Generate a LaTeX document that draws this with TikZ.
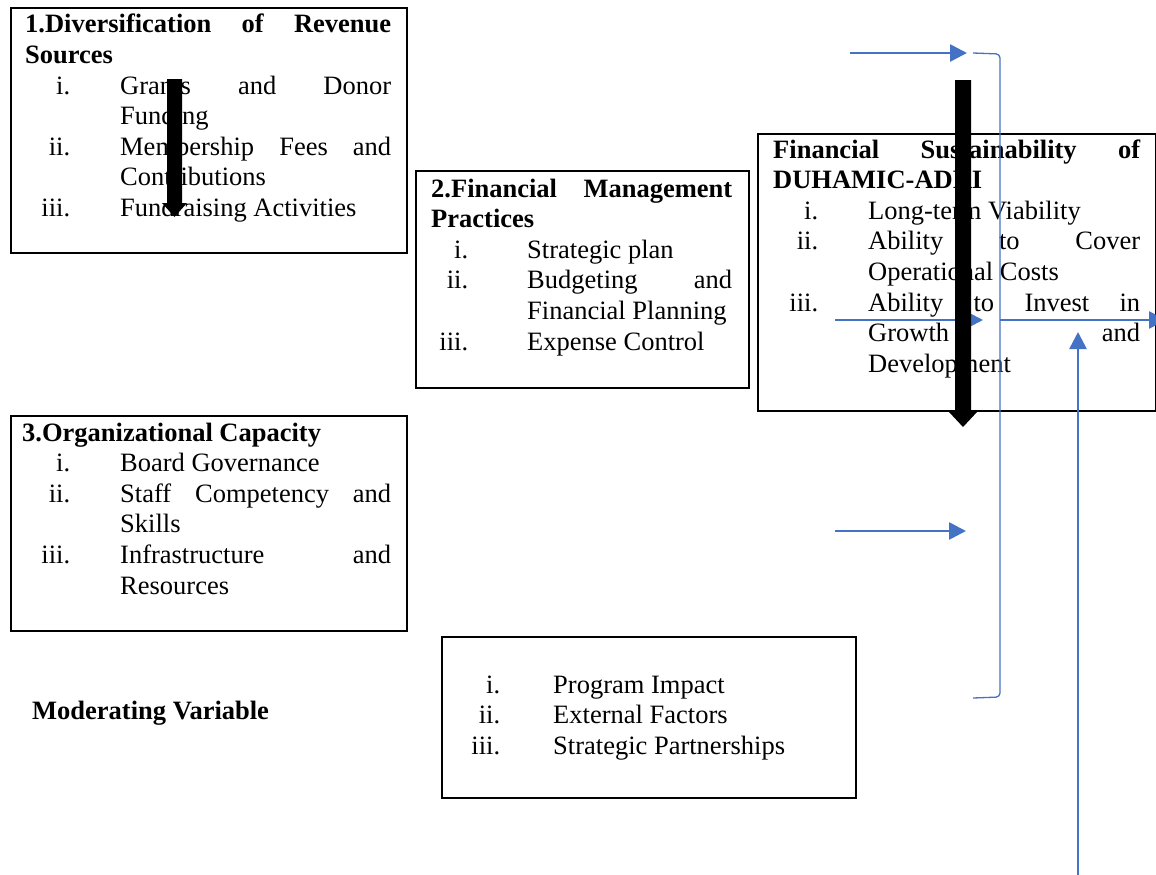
\documentclass[tikz,border=0pt]{standalone}
\usepackage{fontspec}
\setmainfont{Liberation Serif}
\usetikzlibrary{arrows.meta}
\definecolor{linkblue}{HTML}{4472C4}
% column widths for the numbered lists
\newdimen\numw \newdimen\numgap \newdimen\txtw
\newcommand\itemrow[2]{\hbox{\hbox to\numw{\hfill#1}\hskip\numgap#2}}
\newcommand\fillrow[1]{\hbox to\txtw{#1}}
\newcommand\controw[1]{\itemrow{}{#1}}
\begin{document}
\begin{tikzpicture}[x=1pt,y=-1pt,
  box/.style={draw=black, line width=2pt, anchor=north west, inner sep=0pt},
  txt/.style={anchor=base west, inner sep=0pt, font=\fontsize{26.5}{30.6}\selectfont},
  conn/.style={draw=linkblue, line width=2.6pt, -{Triangle[length=17pt,width=17pt]}},
  bracket/.style={draw=linkblue, line width=1.3pt, rounded corners=4pt},
  blockarrow/.style={fill=black}]
\useasboundingbox (0,0) rectangle (1156,875);

% frames
\node[box, minimum width=396pt, minimum height=245pt] (b1) at (10,7) {};
\node[box, minimum width=333pt, minimum height=217pt] (b2) at (415,170) {};
\node[box, minimum width=398pt, minimum height=277pt] (b3) at (757,133) {};
\node[box, minimum width=396pt, minimum height=215pt] (b4) at (10,415) {};
\node[box, minimum width=414pt, minimum height=161pt] (b5) at (441,636) {};

% 1. revenue sources
\node[txt] (t1) at (25,33) {\vtop{\baselineskip=30.6pt
  \numw=45pt \numgap=50pt \txtw=271pt
  \hbox to366pt{\bfseries 1.Diversification\hfill of\hfill Revenue}
  \hbox{\bfseries Sources}
  \itemrow{i.}{\fillrow{Grants\hfill and\hfill Donor}}
  \controw{Funding}
  \itemrow{ii.}{\fillrow{Membership\hfill Fees\hfill and}}
  \controw{Contributions}
  \itemrow{iii.}{Fundraising Activities}}};

% 2. financial management
\node[txt] (t2) at (431,197) {\vtop{\baselineskip=30.6pt
  \numw=37pt \numgap=59pt \txtw=205pt
  \hbox to301pt{\bfseries 2.Financial\hfill Management}
  \hbox{\bfseries Practices}
  \itemrow{i.}{Strategic plan}
  \itemrow{ii.}{\fillrow{Budgeting\hfill and}}
  \controw{Financial Planning}
  \itemrow{iii.}{Expense Control}}};

% dependent variable
\node[txt] (t3) at (773,158) {\vtop{\baselineskip=30.6pt
  \numw=45pt \numgap=50pt \txtw=272pt
  \hbox to367pt{\bfseries Financial\hfill Sustainability\hfill of}
  \hbox{\bfseries DUHAMIC-ADRI}
  \itemrow{i.}{Long-term Viability}
  \itemrow{ii.}{\fillrow{Ability\hfill to\hfill Cover}}
  \controw{Operational Costs}
  \itemrow{iii.}{\fillrow{Ability\hfill to\hfill Invest\hfill in}}
  \controw{\fillrow{Growth\hfill and}}
  \controw{Development}}};

% 3. organizational capacity
\node[txt] (t4) at (22,441) {\vtop{\baselineskip=30.6pt
  \numw=48pt \numgap=50pt \txtw=271pt
  \hbox{\bfseries 3.Organizational Capacity}
  \itemrow{i.}{Board Governance}
  \itemrow{ii.}{\fillrow{Staff\hfill Competency\hfill and}}
  \controw{Skills}
  \itemrow{iii.}{\fillrow{Infrastructure\hfill and}}
  \controw{Resources}}};

% moderating variable
\node[txt] (t5) at (460,693) {\vtop{\baselineskip=30.6pt
  \numw=40pt \numgap=53pt
  \itemrow{i.}{Program Impact}
  \itemrow{ii.}{External Factors}
  \itemrow{iii.}{Strategic Partnerships}}};
\node[txt, font=\fontsize{26.5}{30.6}\selectfont\bfseries] (mv) at (32,719) {Moderating Variable};

% blue connectors
\coordinate (a1s) at (850,53);   \coordinate (a1e) at (967,53);
\coordinate (br1) at (973,53);   \coordinate (br2) at (1000,54);
\coordinate (br3) at (1000,697); \coordinate (br4) at (973,698);
\coordinate (a2s) at (835,320);  \coordinate (a2e) at (983,320);
\coordinate (a3s) at (1000,320); \coordinate (a3e) at (1166,320);
\coordinate (a4s) at (835,531);  \coordinate (a4e) at (966,531);
\coordinate (a5s) at (1078,876); \coordinate (a5e) at (1078,332);
\draw[conn] (a1s) -- (a1e);
\draw[bracket] (br1) -- (br2) -- (br3) -- (br4);
\draw[conn] (a2s) -- (a2e);
\draw[conn] (a3s) -- (a3e);
\draw[conn] (a4s) -- (a4e);
\draw[conn] (a5s) -- (a5e);

% heavy black arrows
\fill[blockarrow] (167,79) -- (182,79) -- (182,203) -- (187,203) -- (174.5,217)
  -- (162,203) -- (167,203) -- cycle;
\fill[blockarrow] (955,80) -- (971,80) -- (971,412) -- (977,412) -- (963,427)
  -- (949,412) -- (955,412) -- cycle;
\end{tikzpicture}
\end{document}
